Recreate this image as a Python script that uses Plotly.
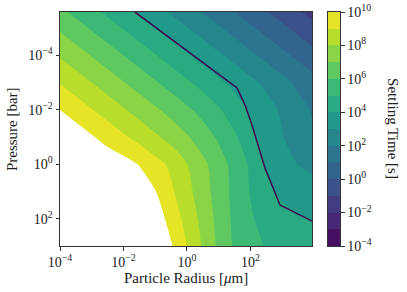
import plotly.graph_objects as go
from plotly.colors import sample_colorscale

# ---------------- data (log10 values) ----------------
radius_log = [-4, -3.5, -3, -2.5, -2, -1.5, -1, -0.5, 0, 0.5, 1, 1.5, 2, 2.5, 3, 3.5, 4]
pressure_log = [-6, -5, -4, -3, -2, -1, 0, 1, 2, 3]

# log10(settling time [s]); one row per pressure value
settling_row_m6 = [5.79, 5.315, 4.84, 4.365, 3.89, 3.415, 2.94, 2.465, 1.99, 1.515, 1.04, 0.565, 0.09, -0.385, -0.86, -1.335, -1.81]
settling_row_m5 = [6.84, 6.365, 5.89, 5.415, 4.94, 4.465, 3.99, 3.515, 3.04, 2.565, 2.09, 1.615, 1.14, 0.665, 0.19, -0.285, -0.76]
settling_row_m4 = [7.89, 7.415, 6.94, 6.465, 5.99, 5.515, 5.04, 4.565, 4.09, 3.615, 3.14, 2.665, 2.19, 1.715, 1.24, 0.765, 0.29]
settling_row_m3 = [8.94, 8.465, 7.99, 7.515, 7.04, 6.565, 6.09, 5.615, 5.14, 4.665, 4.19, 3.715, 3.24, 2.765, 2.29, 1.815, 1.34]
settling_row_m2 = [9.99, 9.515, 9.04, 8.565, 8.09, 7.615, 7.14, 6.665, 6.17, 5.65, 5.1, 4.5, 3.88, 3.37, 2.85, 2.29, 1.9]
settling_row_m1 = [11.04, 10.565, 10.09, 9.615, 9.14, 8.665, 8.17, 7.65, 7.1, 6.5, 5.85, 5.15, 4.3, 3.61, 3.05, 2.48, 2.0]
settling_row_0 = [12.09, 11.615, 11.14, 10.665, 10.4, 9.95, 9.35, 8.8, 8.03, 7.25, 6.45, 5.65, 4.85, 3.93, 3.46, 2.99, 2.75]
settling_row_1 = [13.14, 12.665, 12.19, 11.715, 11.2, 10.7, 10.05, 9.17, 8.31, 7.45, 6.55, 5.70, 4.94, 4.3, 3.8, 3.6, 3.4]
settling_row_2 = [14.2, 13.7, 13.2, 12.8, 12.3, 11.55, 10.6, 9.63, 8.66, 7.69, 6.67, 5.78, 5.13, 4.6, 4.3, 4.12, 3.95]
settling_row_3 = [15.3, 14.8, 14.3, 13.8, 13.2, 12.3, 11.2, 10.1, 9.0, 7.9, 6.8, 5.85, 5.3, 4.95, 4.75, 4.58, 4.4]

# threshold curve (log10 radius, log10 pressure)
threshold_radius_log = [-1.64, 1.58, 1.83, 2.05, 2.24, 2.46, 2.68, 2.93, 3.94]
threshold_pressure_log = [-5.58, -2.80, -2.17, -1.44, -0.71, 0.14, 0.76, 1.49, 2.08]

level_min, level_max = -4, 10
x_tick_vals = [-4, -2, 0, 2]
x_tick_text = ["10<sup>\u22124</sup>", "10<sup>\u22122</sup>", "10<sup>0</sup>", "10<sup>2</sup>"]
y_tick_vals = [-4, -2, 0, 2]
y_tick_text = ["10<sup>\u22124</sup>", "10<sup>\u22122</sup>", "10<sup>0</sup>", "10<sup>2</sup>"]
cbar_tick_vals = [-4, -2, 0, 2, 4, 6, 8, 10]
cbar_tick_text = ["10<sup>\u22124</sup>", "10<sup>\u22122</sup>", "10<sup>0</sup>", "10<sup>2</sup>",
                  "10<sup>4</sup>", "10<sup>6</sup>", "10<sup>8</sup>", "10<sup>10</sup>"]

# ---------------- styling ----------------
settling_log = [settling_row_m6, settling_row_m5, settling_row_m4, settling_row_m3, settling_row_m2,
                settling_row_m1, settling_row_0, settling_row_1, settling_row_2, settling_row_3]

n_bands = level_max - level_min
band_colors = sample_colorscale("Viridis", [(i + 0.5) / n_bands for i in range(n_bands)])
fill_colors = [band_colors[0]] + band_colors + ["rgb(255,255,255)"]
nk = len(fill_colors) - 1
colorscale = []
for k, c in enumerate(fill_colors):
    lo = max(0.0, (k - 0.5) / nk)
    hi = min(1.0, (k + 0.5) / nk)
    colorscale.append([lo, c])
    colorscale.append([hi, c])

FONT = "Liberation Serif"
FS = 15
TFS = 14
AX = "#333333"
TXT = "#222222"

fig = go.Figure()
fig.add_trace(go.Contour(
    x=radius_log, y=pressure_log, z=settling_log,
    autocontour=False,
    contours=dict(start=level_min, end=level_max, size=1, coloring="fill", showlines=False),
    colorscale=colorscale, showscale=False, line=dict(width=0, smoothing=0.8),
    hoverinfo="skip",
))
fig.add_trace(go.Scatter(
    x=threshold_radius_log, y=threshold_pressure_log, mode="lines",
    line=dict(color="#3b0a4f", width=1.6), showlegend=False, hoverinfo="skip",
))
band_mid = [level_min + i + 0.5 for i in range(n_bands)]
fig.add_trace(go.Heatmap(
    x=[0], y=band_mid, z=[[i + 1] for i in range(n_bands)],
    zmin=0, zmax=nk, colorscale=colorscale, showscale=False,
    xaxis="x2", yaxis="y2", hoverinfo="skip",
))

axis_common = dict(showgrid=False, zeroline=False, showline=True, mirror=True, linecolor=AX, linewidth=1,
                   ticks="outside", ticklen=3.5, tickwidth=0.8, tickcolor=AX, automargin=False,
                   tickfont=dict(family=FONT, size=TFS, color=TXT))

fig.update_layout(
    width=407, height=292,
    margin=dict(l=60, r=67, t=12, b=46, pad=0, autoexpand=False),
    paper_bgcolor="white", plot_bgcolor="white",
    showlegend=False,
    xaxis=dict(domain=[0, 0.9], range=[-4, 3.94], tickvals=x_tick_vals, ticktext=x_tick_text, **axis_common),
    yaxis=dict(domain=[0, 1], range=[2.99, -5.58], tickvals=y_tick_vals, ticktext=y_tick_text, **axis_common),
    xaxis2=dict(domain=[0.957, 1.0], anchor="y2", range=[-0.5, 0.5], showticklabels=False, automargin=False,
                showgrid=False, zeroline=False, showline=True, mirror=True, linecolor=AX, linewidth=1, ticks=""),
    yaxis2=dict(domain=[0, 1], anchor="x2", side="right", range=[-4, 10],
                tickvals=cbar_tick_vals, ticktext=cbar_tick_text, **axis_common),
    annotations=[
        dict(text="Particle Radius [<i>\u03bc</i>m]", x=0.45, y=-0.135, xref="paper", yref="paper",
             xanchor="center", yanchor="middle", showarrow=False, font=dict(family=FONT, size=FS, color=TXT)),
        dict(text="Pressure [bar]", x=-0.171, y=0.5, xref="paper", yref="paper", textangle=-90,
             xanchor="center", yanchor="middle", showarrow=False, font=dict(family=FONT, size=FS, color=TXT)),
        dict(text="Settling Time [s]", x=1.189, y=0.5, xref="paper", yref="paper", textangle=90,
             xanchor="center", yanchor="middle", showarrow=False, font=dict(family=FONT, size=FS, color=TXT)),
    ],
)

fig.write_html("out.html", config={"displayModeBar": False},
               post_script="document.body.style.margin='0px';")
